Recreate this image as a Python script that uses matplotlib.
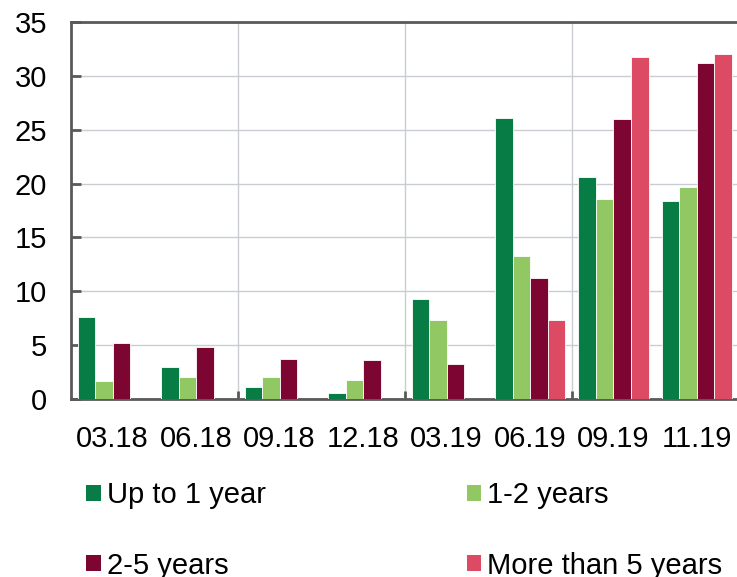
import numpy as np
import matplotlib
matplotlib.use("Agg")
import matplotlib.pyplot as plt
from matplotlib.patches import Patch

# data
periods = ["03.18", "06.18", "09.18", "12.18", "03.19", "06.19", "09.19", "11.19"]
up_to_1 = [7.6, 3.0, 1.15, 0.6, 9.3, 26.1, 20.6, 18.4]
one_two = [1.7, 2.0, 2.05, 1.8, 7.3, 13.3, 18.6, 19.7]
two_five = [5.2, 4.8, 3.7, 3.6, 3.25, 11.2, 26.0, 31.2]
more_5 = [0, 0, 0, 0, 0, 7.3, 31.7, 32.0]

series_names = ["Up to 1 year", "1-2 years", "2-5 years", "More than 5 years"]
colors = ["#077C44", "#92C864", "#7D0532", "#DC4A63"]

plt.rcParams["font.family"] = ["Liberation Sans", "DejaVu Sans"]

fig = plt.figure(figsize=(7.37, 5.77), dpi=100)
ax = fig.add_axes([0.0963, 0.3085, 0.906, 0.6535])

x = np.arange(len(periods))
width = 0.21
all_series = [up_to_1, one_two, two_five, more_5]
for i, vals in enumerate(all_series):
    offs = (i - 1.5) * width
    ax.bar(x + offs, vals, width, color=colors[i], edgecolor="white",
           linewidth=0.6, zorder=3)

ax.set_xlim(-0.5, len(periods) - 0.5)
ax.set_ylim(0, 35)
ax.set_yticks(range(0, 36, 5))
ax.set_xticks(x)
ax.set_xticklabels(periods)
ax.set_xticks([1.5, 3.5, 5.5], minor=True)

ax.grid(axis="y", which="major", color="#C9CDD1", linewidth=1.0, zorder=0)
ax.grid(axis="x", which="minor", color="#C9CDD1", linewidth=1.0, zorder=0)

for side in ["left", "bottom", "top"]:
    ax.spines[side].set_color("#5A5A5A")
    ax.spines[side].set_linewidth(2)
ax.spines["right"].set_visible(False)

ax.tick_params(axis="y", which="major", direction="in", length=7, width=2,
               color="#5A5A5A", labelsize=21, pad=17)
ax.tick_params(axis="x", which="major", length=0, labelsize=21, pad=19)
ax.tick_params(axis="x", which="minor", direction="in", length=6, width=2,
               color="#5A5A5A")

# row-major legend order: Up to 1 | 1-2 / 2-5 | >5
handles = [Patch(facecolor=c, edgecolor="none") for c in colors]
order = [0, 2, 1, 3]
fig.legend([handles[i] for i in order], [series_names[i] for i in order],
           loc="upper left", ncol=2,
           bbox_to_anchor=(0.117, 0.166), frameon=False, fontsize=21,
           handlelength=0.5, handleheight=0.5, handletextpad=0.2,
           columnspacing=6.9, labelspacing=1.45, borderaxespad=0,
           borderpad=0)

fig.savefig("out.png", dpi=100)
